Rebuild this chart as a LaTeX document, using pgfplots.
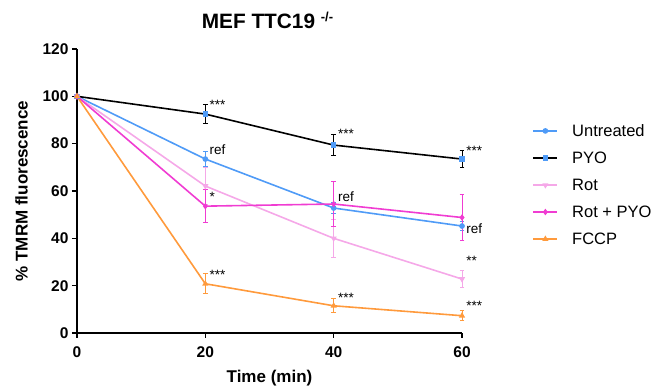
\documentclass[border=0pt]{standalone}
\usepackage{pgfplots}
\pgfplotsset{compat=1.18}
\usepackage{fontspec}
\setmainfont{Liberation Sans}
\definecolor{cUnt}{HTML}{4F9BF7}
\definecolor{cPYOm}{HTML}{4F9BF7}
\definecolor{cRot}{HTML}{F5A8E8}
\definecolor{cRP}{HTML}{F03CD2}
\definecolor{cF}{HTML}{FF9A3C}
\begin{document}
\begin{tikzpicture}[x=1pt,y=1pt]
\path (-77,-57) rectangle (589,333);
\begin{axis}[
  scale only axis, width=385pt, height=284pt,
  xmin=0, xmax=60, ymin=0, ymax=120,
  axis x line*=bottom, axis y line*=left,
  axis line style={line width=1.7pt, -},
  xtick={0,20,40,60}, ytick={0,20,...,120},
  tick style={line width=1.5pt, black},
  tick align=outside, major tick length=5pt,
  ticklabel style={font=\bfseries\fontsize{15.5}{17}\selectfont},
  xticklabel style={yshift=-5pt},
  /pgf/number format/assume math mode=true,
  xlabel={\bfseries Time (min)}, ylabel={\bfseries \% TMRM fluorescence},
  label style={font=\bfseries\fontsize{17}{19}\selectfont},
  xlabel style={yshift=-6pt},
  ylabel style={yshift=8pt},
  title={\bfseries MEF TTC19 \raisebox{0.6ex}{\fontsize{13}{14}\selectfont -/-}},
  title style={font=\bfseries\fontsize{20.8}{23}\selectfont, yshift=11pt, xshift=-2pt},
  legend style={draw=none, at={(1.175,0.75)}, anchor=north west, font=\fontsize{16.5}{19}\selectfont, row sep=10pt, fill=none},
  legend image code/.code={\draw[mark repeat=2,mark phase=2,#1] plot coordinates {(0pt,0pt) (12pt,0pt) (24pt,0pt)}; \path (36pt,0pt);},
  legend cell align=left,
  clip=false,
  every axis plot/.append style={line width=1.6pt},
  error bars/error bar style={line width=1pt},
  error bars/error mark options={rotate=90, mark size=2.4pt, line width=1pt},
]
\addplot[color=cUnt, mark=*, mark size=2pt, error bars/.cd, y dir=both, y explicit]
 coordinates {(0,100) +- (0,0) (20,73.5) +- (0,3.3) (40,52.8) +- (0,2.5) (60,45.2) +- (0,2)};
\addlegendentry{Untreated}
\addplot[color=black, mark=square*, mark options={fill=cPYOm, draw=cPYOm}, mark size=2pt, error bars/.cd, y dir=both, y explicit]
 coordinates {(0,100) +- (0,0) (20,92.5) +- (0,4) (40,79.4) +- (0,4.3) (60,73.5) +- (0,3.5)};
\addlegendentry{PYO}
\addplot[color=cRot, mark=triangle*, mark options={rotate=180}, mark size=2pt, error bars/.cd, y dir=both, y explicit]
 coordinates {(0,100) +- (0,0) (20,62.1) +- (0,8) (40,40) +- (0,8) (60,22.8) +- (0,3.5)};
\addlegendentry{Rot}
\addplot[color=cRP, mark=diamond*, mark size=2pt, error bars/.cd, y dir=both, y explicit]
 coordinates {(0,100) +- (0,0) (20,53.6) +- (0,7) (40,54.5) +- (0,9.7) (60,48.8) +- (0,9.6)};
\addlegendentry{Rot + PYO}
\addplot[color=cF, mark=triangle*, mark size=2pt, error bars/.cd, y dir=both, y explicit]
 coordinates {(0,100) +- (0,0) (20,20.8) +- (0,4.2) (40,11.5) +- (0,3) (60,7.3) +- (0,2)};
\addlegendentry{FCCP}
\begin{scope}[every node/.style={font=\fontsize{13.5}{15}\selectfont, anchor=west, inner sep=1pt}]
\node at (axis cs:20.5,96.5) {***};
\node at (axis cs:20.5,77.5) {ref};
\node at (axis cs:20.5,57.5) {*};
\node at (axis cs:20.5,24.5) {***};
\node at (axis cs:40.5,84) {***};
\node at (axis cs:40.5,57.5) {ref};
\node at (axis cs:40.5,15) {***};
\node at (axis cs:60.5,77) {***};
\node at (axis cs:60.5,44) {ref};
\node at (axis cs:60.5,30.5) {**};
\node at (axis cs:60.5,11.5) {***};
\end{scope}
\end{axis}
\end{tikzpicture}
\end{document}
